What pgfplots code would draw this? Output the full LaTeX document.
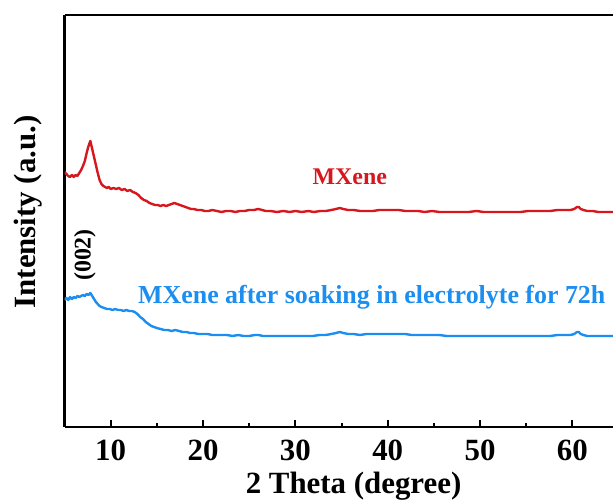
\documentclass[border=0pt]{standalone}
\usepackage{pgfplots}
\pgfplotsset{compat=1.18}
\usepackage{fontspec}
\setmainfont{Liberation Serif}

\definecolor{mxred}{RGB}{214,24,30}
\definecolor{mxblue}{RGB}{28,142,240}

\begin{document}
\begin{tikzpicture}
\useasboundingbox (-64.5bp,-74bp) rectangle (548.5bp,427bp);
\begin{axis}[
  scale only axis,
  width=548.5bp, height=412bp,
  xmin=5, xmax=64.4, ymin=0, ymax=412,
  axis x line=box, axis y line*=left,
  axis line style={line width=2.6bp},
  xtick={10,20,...,60},
  minor xtick={15,25,...,55},
  xtick pos=bottom,
  tick align=inside,
  major tick length=7bp, minor tick length=4bp,
  every tick/.style={black, line width=2bp},
  ytick=\empty,
  xticklabel style={font=\fontsize{31}{36}\selectfont\bfseries, yshift=-9bp},
  /pgf/number format/assume math mode=true,
  xlabel={2 Theta (degree)},
  xlabel style={font=\fontsize{31}{36}\selectfont\bfseries, at={(axis description cs:0.527,0)}, anchor=base, yshift=-66bp},
  ylabel={Intensity (a.u.)},
  ylabel style={font=\fontsize{31}{36}\selectfont\bfseries, at={(axis description cs:-0.0665,0.522)}, anchor=center},
  clip=true,
]
% pristine MXene
\addplot[mxred, line width=2.4bp, line join=round] coordinates {
(5.0,255) (5.2,253) (5.4,251) (5.6,250) (5.8,252) (6.0,250) (6.2,252) (6.4,251)
(6.6,254) (6.8,257) (7.0,261) (7.2,266) (7.4,274) (7.6,281) (7.8,286) (8.0,278)
(8.2,270) (8.4,262) (8.6,254) (8.8,247) (9.0,243) (9.2,241) (9.4,240) (9.6,239)
(9.8,240) (10.0,238) (10.3,239) (10.6,238) (10.9,239) (11.2,237) (11.5,238)
(11.8,236) (12.1,237) (12.4,235) (12.7,234) (13.0,232) (13.3,229) (13.6,227)
(13.9,226) (14.2,224) (14.5,223) (14.8,222) (15.1,222) (15.4,221) (15.7,222)
(16.0,221) (16.3,222) (16.6,223) (16.9,224) (17.2,223) (17.5,222) (17.8,221)
(18.1,220) (18.4,219) (18.7,218) (19.0,218) (19.4,217) (19.8,217) (20.2,216)
(20.6,216) (21.0,217) (21.5,216) (22.0,215) (22.5,216) (23.0,216) (23.5,215)
(24.0,216) (24.5,216) (25.0,217) (25.5,217) (26.0,218) (26.4,217) (26.8,216)
(27.3,216) (28.0,215) (28.7,216) (29.4,215) (30.0,216) (30.7,215) (31.4,216)
(32.0,215) (32.7,216) (33.3,216) (33.9,217) (34.4,218) (34.8,219) (35.2,218)
(35.7,217) (36.3,217) (37.0,216) (37.7,216) (38.4,216) (39.1,217) (39.8,217)
(40.5,217) (41.2,217) (41.9,216) (42.6,216) (43.3,216) (44.0,215) (44.8,216)
(45.6,215) (46.4,215) (47.2,215) (48.0,215) (48.8,215) (49.6,216) (50.4,215)
(51.2,215) (52.0,215) (52.8,215) (53.6,215) (54.4,215) (55.2,216) (56.0,216)
(56.8,216) (57.6,216) (58.4,217) (59.2,217) (59.8,217) (60.2,218) (60.5,220)
(60.7,220) (60.9,218) (61.2,217) (61.6,216) (62.2,216) (62.8,215) (63.4,215)
(64.0,215) (64.4,215)
};
% MXene after 72 h in electrolyte
\addplot[mxblue, line width=2.4bp, line join=round] coordinates {
(5.0,127) (5.2,129) (5.4,127) (5.6,130) (5.8,128) (6.0,130) (6.2,129) (6.4,131)
(6.6,130) (6.8,131) (7.0,132) (7.2,131) (7.4,133) (7.6,132) (7.8,134) (8.0,131)
(8.2,128) (8.4,125) (8.6,123) (8.8,121) (9.0,120) (9.3,119) (9.6,118) (9.9,118)
(10.2,117) (10.5,118) (10.8,117) (11.1,117) (11.4,116) (11.7,117) (12.0,116)
(12.3,116) (12.6,115) (12.9,113) (13.2,110) (13.5,108) (13.8,105) (14.1,103)
(14.4,101) (14.7,100) (15.0,99) (15.4,98) (15.8,97) (16.2,97) (16.6,96)
(17.0,97) (17.4,96) (17.8,95) (18.2,95) (18.6,94) (19.0,94) (19.5,93) (20.0,93)
(20.5,93) (21.0,92) (21.5,92) (22.0,92) (22.6,92) (23.2,91) (23.8,92) (24.4,91)
(25.0,91) (25.6,92) (26.0,92) (26.5,91) (27.0,91) (27.7,91) (28.4,91) (29.1,91)
(29.8,91) (30.5,91) (31.2,91) (31.9,91) (32.6,92) (33.3,92) (33.9,93) (34.4,94)
(34.8,95) (35.2,94) (35.7,93) (36.3,93) (37.0,92) (37.7,93) (38.4,93) (39.1,93)
(39.8,93) (40.5,93) (41.2,93) (41.9,93) (42.6,92) (43.3,92) (44.0,92) (44.8,92)
(45.6,92) (46.4,91) (47.2,91) (48.0,91) (48.8,91) (49.6,91) (50.4,91) (51.2,91)
(52.0,91) (52.8,91) (53.6,91) (54.4,91) (55.2,91) (56.0,91) (56.8,91) (57.6,91)
(58.4,92) (59.2,92) (59.8,92) (60.2,93) (60.5,95) (60.7,95) (60.9,93) (61.2,92)
(61.6,91) (62.2,91) (62.8,91) (63.4,91) (64.0,91) (64.4,91)
};
\node[mxred, font=\fontsize{24}{28}\selectfont\bfseries] at (axis cs:35.9,250) {MXene};
\node[mxblue, font=\fontsize{26}{30}\selectfont\bfseries, anchor=west, inner sep=0pt] at (axis cs:12.96,130) {MXene after soaking in electrolyte for 72h};
\node[black, font=\fontsize{24}{28}\selectfont\bfseries, rotate=90] at (axis cs:7.2,172) {(002)};
\end{axis}
\end{tikzpicture}
\end{document}
